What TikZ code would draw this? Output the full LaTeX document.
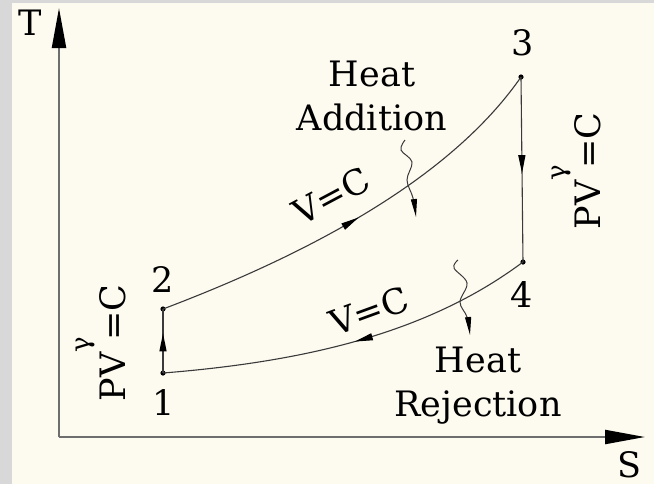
\documentclass[tikz,border=0pt]{standalone}
\usepackage{fontspec}
\setmainfont{DejaVu Serif}
\usepackage{tikz}
\usetikzlibrary{arrows.meta,decorations.markings}
\definecolor{CyclePanel}{HTML}{FDFAEF}
\definecolor{CycleMarble}{HTML}{D8D8D8}
\definecolor{CycleAxis}{HTML}{6E6E6E}
\definecolor{CycleLine}{HTML}{3A3A3A}
\newcommand{\gammasup}{\raisebox{17.5pt}{\fontsize{13}{13}\selectfont γ}}
\tikzset{
  axis/.style={line width=1.1pt,draw=CycleAxis,
    -{Triangle[length=20pt,width=7pt,color=black]}},
  process/.style={line width=0.55pt,draw=CycleLine},
  midarrow/.style={postaction={decorate},decoration={markings,
    mark=at position #1 with {\arrow{Triangle[length=9pt,width=3.5pt,color=black]}}}},
  heatflow/.style={line width=0.5pt,draw=CycleLine,
    -{Triangle[length=9pt,width=3pt,color=black]}},
  statept/.style={circle,fill=black,inner sep=0pt,minimum size=2.6pt},
  lbl/.style={font=\fontsize{17.5}{22}\selectfont,inner sep=0pt,align=center}
}

\begin{document}
\begin{tikzpicture}[x=0.5pt,y=-0.5pt]
  \fill[CycleMarble] (0,0) rectangle (654,484);
  \fill[CyclePanel] (12,3) rectangle (654,484);
  \useasboundingbox (0,0) rectangle (654,484);

  % axes
  \coordinate (O) at (59,437);
  \coordinate (Ttip) at (59,8);
  \coordinate (Stip) at (645,437);
  \draw[axis] (O) -- (Ttip);
  \draw[axis] (O) -- (Stip);
  \node[lbl,anchor=base] (Tlab) at (30,35) {T};
  \node[lbl,anchor=base] (Slab) at (629,477) {S};

  % state points
  \node[statept] (p1) at (163,373) {};
  \node[statept] (p2) at (163,309) {};
  \node[statept] (p3) at (521,77) {};
  \node[statept] (p4) at (523,262) {};
  \node[lbl,anchor=base] (n1) at (164,415) {1};
  \node[lbl,anchor=base] (n2) at (163,292) {2};
  \node[lbl,anchor=base] (n3) at (523,55) {3};
  \node[lbl,anchor=base] (n4) at (522,307) {4};

  % cycle
  \draw[process,midarrow=0.62] (p1.center) -- (p2.center);
  \draw[process,midarrow=0.5] (p2.center) .. controls (340,242) and (460,165) .. (p3.center);
  \draw[process,midarrow=0.52] (p3.center) -- (p4.center);
  \draw[process,midarrow=0.49] (p4.center) .. controls (432,330) and (314,361) .. (p1.center);

  \node[lbl,rotate=90,anchor=base] (isenL) at (125,343) {PV\gammasup\kern-2pt=C};
  \node[lbl,rotate=90,anchor=base] (isenR) at (600,171) {PV\gammasup\kern-2pt=C};
  \node[lbl,rotate=28] (vcUp) at (331,196) {V=C};
  \node[lbl,rotate=20] (vcLow) at (369,311) {V=C};

  % heat in / out
  \node[lbl] (qinlab) at (372,96) {Heat\\Addition};
  \node[lbl] (qoutlab) at (478,386) {Heat\\Rejection};
  \coordinate (qin) at (405,140);
  \coordinate (qout) at (458,260);
  \draw[heatflow] plot[smooth,tension=0.6] coordinates
    {(qin) (401,150) (412,162) (407,180) (413,198) (416,217)};
  \draw[heatflow] plot[smooth,tension=0.6] coordinates
    {(qout) (454,268) (467,283) (460,302) (467,317) (470,335)};
\end{tikzpicture}
\end{document}
